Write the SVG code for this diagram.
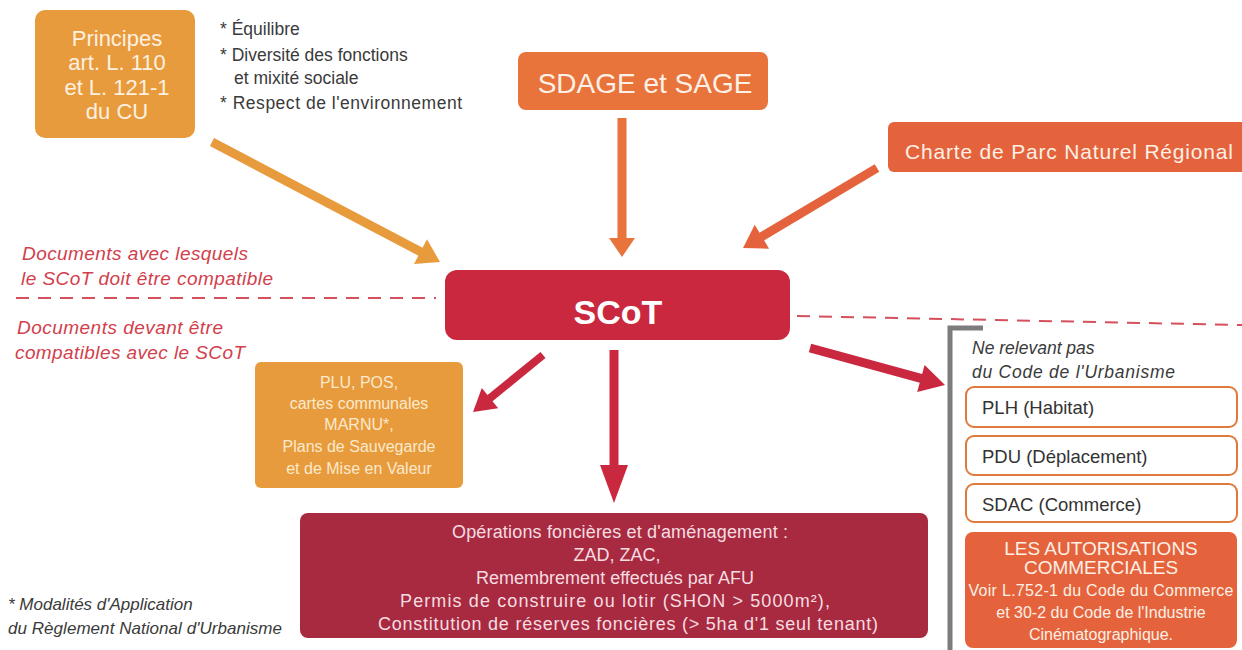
<svg xmlns="http://www.w3.org/2000/svg" width="1242" height="650" viewBox="0 0 1242 650">
  <style>
    text { font-family: "Liberation Sans", Arial, sans-serif; }
    .amber { fill: #e89b3c; }
    .orange { fill: #e8743c; }
    .vermil { fill: #e4633c; }
    .crimson { fill: #ca283f; }
    .wine { fill: #a82a40; }
    .light { fill: #fdf0e0; }
    .note { fill: #3a3a3a; font-size: 17.5px; }
    .red-it { fill: #d2404c; font-size: 19px; font-style: italic; }
    .sep { stroke: #d4505c; stroke-width: 2; stroke-dasharray: 13 9; fill: none; }
    .outline { fill: #ffffff; stroke: #e07a3c; stroke-width: 2; }
    .boxtxt { fill: #333333; font-size: 18.5px; }
  </style>

  <rect width="1242" height="650" fill="#ffffff"/>

  <!-- separator between the two families of documents -->
  <g id="separator">
    <line class="sep" x1="16" y1="298" x2="436" y2="298"/>
    <line class="sep" x1="797" y1="316" x2="1242" y2="325"/>
  </g>

  <!-- side labels -->
  <g id="labels">
    <text class="red-it" x="22" y="260" textLength="226">Documents avec lesquels</text>
    <text class="red-it" x="21" y="285" textLength="252">le SCoT doit être compatible</text>
    <text class="red-it" x="17" y="334" textLength="206">Documents devant être</text>
    <text class="red-it" x="15" y="359" textLength="230">compatibles avec le SCoT</text>
    <text class="note" style="font-style:italic;font-size:17px" x="8" y="610">* Modalités d'Application</text>
    <text class="note" style="font-style:italic;font-size:17px" x="8" y="634" textLength="274">du Règlement National d'Urbanisme</text>
  </g>

  <g id="principes">
    <rect class="amber" x="35" y="10" width="160" height="128" rx="10"/>
    <g class="light" font-size="22" text-anchor="middle">
      <text x="117" y="46">Principes</text>
      <text x="117" y="70">art. L. 110</text>
      <text x="117" y="95">et L. 121-1</text>
      <text x="117" y="119">du CU</text>
    </g>
  </g>

  <g id="principes-list">
    <text class="note" x="220" y="35">* Équilibre</text>
    <text class="note" x="220" y="61">* Diversité des fonctions</text>
    <text class="note" x="234" y="84">et mixité sociale</text>
    <text class="note" x="220" y="109" textLength="242">* Respect de l'environnement</text>
  </g>

  <g id="sdage">
    <rect class="orange" x="518" y="52" width="250" height="58" rx="8"/>
    <text x="645" y="93" font-size="28" fill="#fdf0e6" text-anchor="middle">SDAGE et SAGE</text>
  </g>

  <g id="charte">
    <rect class="vermil" x="888" y="122" width="360" height="50" rx="6"/>
    <text x="905" y="159" font-size="21" fill="#fdf0e6" textLength="328">Charte de Parc Naturel Régional</text>
  </g>

  <g id="scot">
    <rect class="crimson" x="445" y="270" width="345" height="70" rx="12"/>
    <text x="618" y="324" font-size="34" font-weight="bold" fill="#ffffff" text-anchor="middle">SCoT</text>
  </g>

  <g id="plu">
    <rect class="amber" x="255" y="362" width="208" height="126" rx="6"/>
    <g font-size="16" fill="#fbe9cc" text-anchor="middle">
      <text x="359" y="388">PLU, POS,</text>
      <text x="359" y="409">cartes communales</text>
      <text x="359" y="430">MARNU*,</text>
      <text x="359" y="452">Plans de Sauvegarde</text>
      <text x="359" y="474">et de Mise en Valeur</text>
    </g>
  </g>

  <g id="operations">
    <rect class="wine" x="300" y="513" width="628" height="125" rx="8"/>
    <g font-size="18" fill="#f6dde0" text-anchor="middle">
      <text x="620" y="538" textLength="336">Opérations foncières et d'aménagement :</text>
      <text x="617" y="561">ZAD, ZAC,</text>
      <text x="615" y="584">Remembrement effectués par AFU</text>
      <text x="615" y="607" textLength="430">Permis de construire ou lotir (SHON &gt; 5000m²),</text>
      <text x="628" y="630" textLength="500">Constitution de réserves foncières (&gt; 5ha d'1 seul tenant)</text>
    </g>
  </g>

  <!-- group of plans outside the town-planning code -->
  <g id="hors-code">
    <path d="M983 328 H950 V650" fill="none" stroke="#7c7c7c" stroke-width="5"/>
    <text class="note" style="font-style:italic" x="972" y="354">Ne relevant pas</text>
    <text class="note" style="font-style:italic" x="972" y="378" textLength="203">du Code de l'Urbanisme</text>
  </g>

  <g id="plh">
    <rect class="outline" x="966" y="387" width="271" height="40" rx="8"/>
    <text class="boxtxt" x="982" y="414">PLH (Habitat)</text>
  </g>
  <g id="pdu">
    <rect class="outline" x="966" y="436" width="271" height="39" rx="8"/>
    <text class="boxtxt" x="982" y="463">PDU (Déplacement)</text>
  </g>
  <g id="sdac">
    <rect class="outline" x="966" y="484" width="271" height="38" rx="8"/>
    <text class="boxtxt" x="982" y="511">SDAC (Commerce)</text>
  </g>

  <g id="autorisations">
    <rect class="vermil" x="965" y="532" width="272" height="116" rx="8"/>
    <g fill="#fdf0e6" text-anchor="middle">
      <text x="1101" y="555" font-size="19">LES AUTORISATIONS</text>
      <text x="1101" y="574" font-size="19">COMMERCIALES</text>
      <text x="1101" y="596" font-size="16" textLength="265">Voir L.752-1 du Code du Commerce</text>
      <text x="1101" y="618" font-size="16">et 30-2 du Code de l'Industrie</text>
      <text x="1101" y="640" font-size="16">Cinématographique.</text>
    </g>
  </g>

  <!-- connectors: shaft + head -->
  <g id="connectors">
    <g fill="#e89b3c">
      <line x1="212" y1="142" x2="422" y2="252.5" stroke="#e89b3c" stroke-width="9"/>
      <polygon points="414,264.1 427,239.3 440,262"/>
    </g>
    <g fill="#e8743c">
      <line x1="622" y1="118" x2="622" y2="240" stroke="#e8743c" stroke-width="9"/>
      <polygon points="609,238 635,238 622,257"/>
    </g>
    <g fill="#e4633c">
      <line x1="877" y1="168" x2="760" y2="237.7" stroke="#e4633c" stroke-width="9"/>
      <polygon points="754.7,224.7 769.1,248.7 743,248"/>
    </g>
    <g fill="#ca283f">
      <line x1="543" y1="355" x2="488.5" y2="399.4" stroke="#ca283f" stroke-width="8"/>
      <polygon points="481.8,388 498.2,408.2 473,412"/>
      <line x1="614" y1="350" x2="614" y2="467" stroke="#ca283f" stroke-width="9"/>
      <polygon points="600,465 628,465 614,503"/>
      <line x1="810" y1="348" x2="922.8" y2="378.9" stroke="#ca283f" stroke-width="9"/>
      <polygon points="917.2,391.9 924.6,364.9 945,385"/>
    </g>
  </g>
</svg>
